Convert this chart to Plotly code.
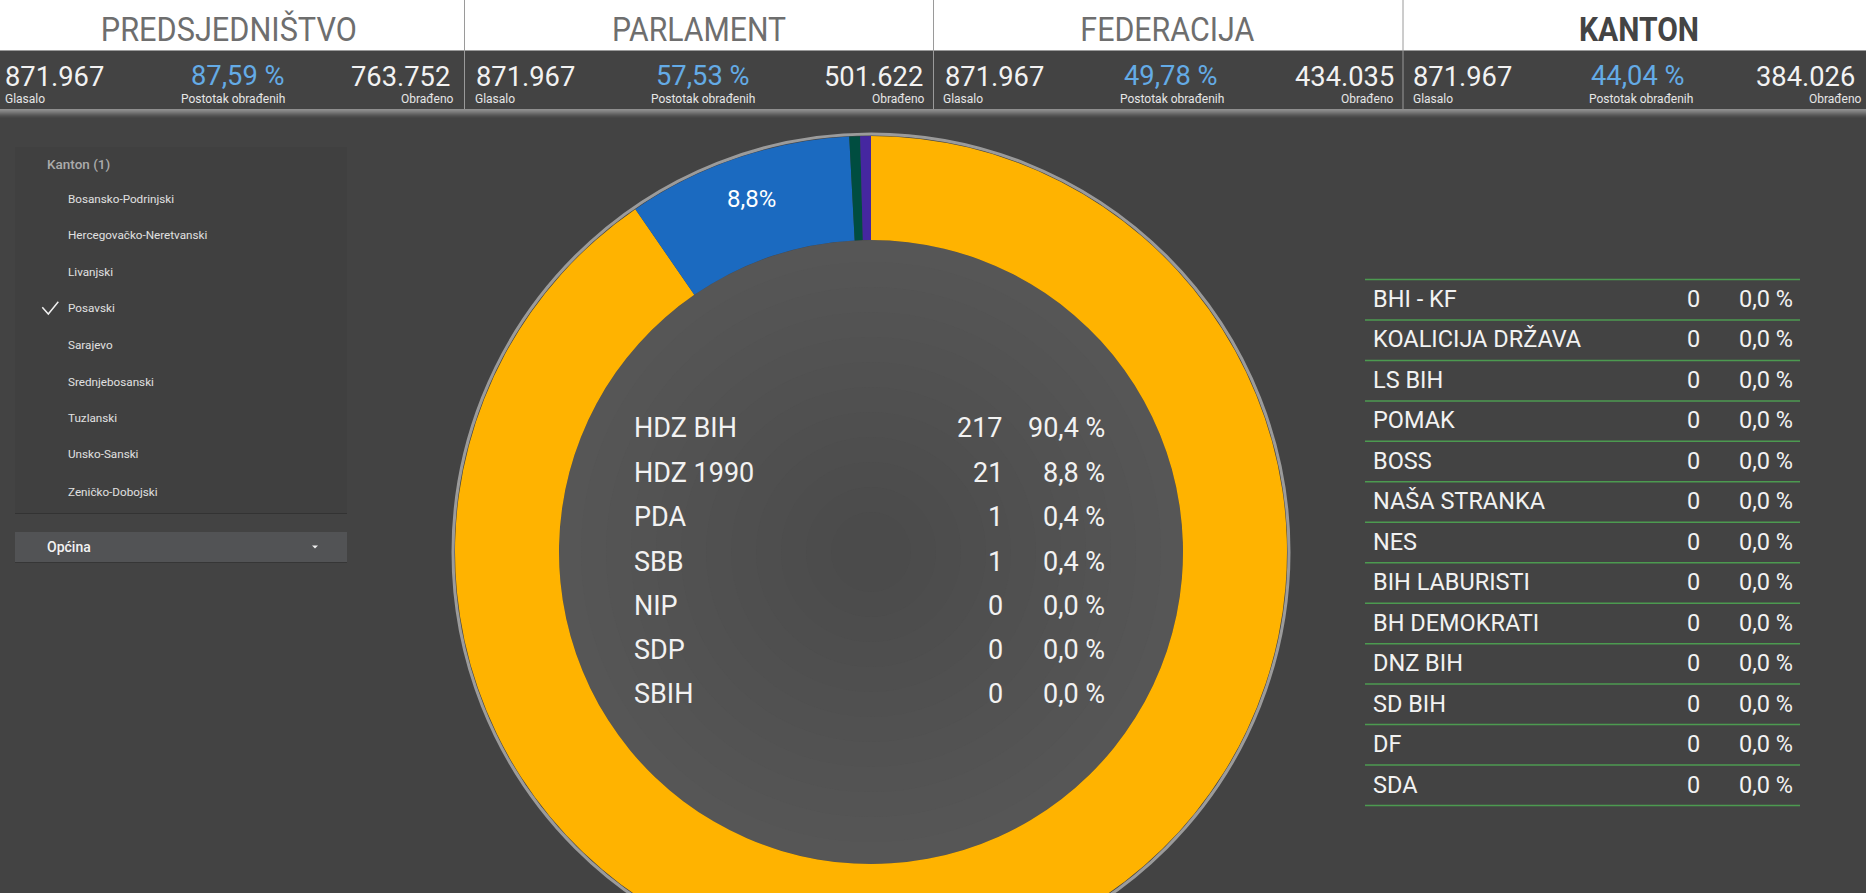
import json
import math
import plotly.graph_objects as go

W, H = 1866, 1000

# ---------- data ----------
party_names = ["HDZ BIH", "HDZ 1990", "PDA", "SBB", "NIP", "SDP", "SBIH"]
party_votes = [217, 21, 1, 1, 0, 0, 0]
party_pct = ["90,4 %", "8,8 %", "0,4 %", "0,4 %", "0,0 %", "0,0 %", "0,0 %"]
slice_colors = ["#ffb300", "#1b6ac0", "#004d40", "#4527a0", "#888888", "#888888", "#888888"]

other_names = ["BHI - KF", "KOALICIJA DRŽAVA", "LS BIH", "POMAK", "BOSS", "NAŠA STRANKA", "NES",
               "BIH LABURISTI", "BH DEMOKRATI", "DNZ BIH", "SD BIH", "DF", "SDA"]
other_votes = [0] * 13
other_pct = ["0,0 %"] * 13

header_titles = ["PREDSJEDNIŠTVO", "PARLAMENT", "FEDERACIJA", "KANTON"]
stat_voted = ["871.967", "871.967", "871.967", "871.967"]
stat_pct = ["87,59 %", "57,53 %", "49,78 %", "44,04 %"]
stat_done = ["763.752", "501.622", "434.035", "384.026"]

cantons = ["Bosansko-Podrinjski", "Hercegovačko-Neretvanski", "Livanjski", "Posavski", "Sarajevo",
           "Srednjebosanski", "Tuzlanski", "Unsko-Sanski", "Zeničko-Dobojski"]

# ---------- layout constants ----------
BG = "#434343"
FONT = "Roboto"
CX, CY, R = 871, 552, 416


def px(x):
    return x / W


def py(y):
    return 1 - y / H


annotations = []
shapes = []


def text(x, y, s, size, color="#f2f2f2", anchor="left", weight=400):
    annotations.append(dict(x=px(x), y=py(y), xref="paper", yref="paper", text=s, showarrow=False,
                            xanchor=anchor, yanchor="middle", borderpad=0,
                            font=dict(family=FONT, size=size, color=color, weight=weight)))


def rect(x0, y0, x1, y1, color):
    shapes.append(dict(type="rect", xref="paper", yref="paper", x0=px(x0), x1=px(x1), y0=py(y0), y1=py(y1),
                       fillcolor=color, line=dict(width=0), layer="below"))


def hline(x0, x1, y, color, width=1):
    shapes.append(dict(type="line", xref="paper", yref="paper", x0=px(x0), x1=px(x1), y0=py(y), y1=py(y),
                       line=dict(color=color, width=width), layer="below"))


def vline(x, y0, y1, color, width=1):
    shapes.append(dict(type="line", xref="paper", yref="paper", x0=px(x), x1=px(x), y0=py(y0), y1=py(y1),
                       line=dict(color=color, width=width), layer="below"))


def circle(r, fill, line_color=None, line_width=0):
    shapes.append(dict(type="circle", xref="paper", yref="paper", x0=px(CX - r), x1=px(CX + r),
                       y0=py(CY + r), y1=py(CY - r), fillcolor=fill,
                       line=dict(color=line_color or fill, width=line_width), layer="below"))


# ---------- header ----------
rect(0, 0, W, 50, "#ffffff")
hline(0, W, 50.5, "#9a9a9a", 1)
band = ["#8e8e8e", "#888888", "#7f7f7f", "#757575", "#6a6a6a", "#5f5f5f", "#555555", "#4d4d4d", "#474747"]
for i, shade in enumerate(band):
    rect(0, 109 + i, W, 110 + i, shade)
for x in (464.5, 933.5, 1403):
    vline(x, 0, 109, "#9a9a9a", 1)

title_cx = [229, 699, 1167.5, 1639]
title_w = [256, 174, 174, 120]
for i, t in enumerate(header_titles):
    if i == 3:
        text(title_cx[i], 29, t, 34, "#444444", "center", 700)
    else:
        text(title_cx[i], 29, t, 34, "#6e6e6e", "center", 400)

voted_x = [4, 475, 944, 1412]
voted_lab_x = [3.5, 473.5, 942.5, 1411.5]
pct_x = [238, 703, 1171, 1638]
pct_lab_x = [233, 703, 1172, 1641]
done_x = [451, 923.5, 1395, 1856]
done_lab_x = [455, 926, 1395, 1862.5]
for i in range(4):
    text(voted_x[i], 76.5, stat_voted[i], 27.3)
    text(pct_x[i], 75.5, stat_pct[i], 27.3, "#64abe6", "center")
    text(done_x[i], 76.5, stat_done[i], 27.3, "#f2f2f2", "right")
    text(voted_lab_x[i], 99, "Glasalo", 12, "#e6e6e6")
    text(pct_lab_x[i], 99, "Postotak obrađenih", 12, "#e6e6e6", "center")
    text(done_lab_x[i], 99, "Obrađeno", 12, "#e6e6e6", "right")

# ---------- left filter panel ----------
rect(15, 147, 347, 513, "#404040")
hline(15, 347, 513.5, "#333333", 1)
text(45.5, 164, "Kanton (1)", 13.5, "#ababab", weight=500)
canton_y = [198.7, 235.3, 271.7, 308.3, 344.7, 381.7, 417.7, 454.3, 491.7]
for name, y in zip(cantons, canton_y):
    text(67, y, name, 11.7, "#e0e0e0")
shapes.append(dict(type="path", xref="paper", yref="paper", layer="below",
                   path="M %f %f L %f %f L %f %f" % (px(42.3), py(307.3), px(48.3), py(314), px(58.3), py(301.7)),
                   line=dict(color="#f0f0f0", width=1.5)))
rect(15, 532, 347, 562, "#525355")
hline(15, 347, 562.5, "#363636", 1)
text(45.5, 547, "Općina", 14, "#f2f2f2", weight=500)
shapes.append(dict(type="path", xref="paper", yref="paper", layer="below",
                   path="M %f %f L %f %f L %f %f Z" % (px(312), py(545.5), px(318), py(545.5), px(315), py(548.5)),
                   fillcolor="#f0f0f0", line=dict(width=0)))

# ---------- donut surroundings ----------
circle(418, BG, "#9b9b9b", 3)
ring_r = [312, 290, 265, 240, 215, 190, 165, 140, 115, 90, 65, 40]
ring_c = ["#565656", "#555555", "#545454", "#535353", "#525252", "#515151", "#505050",
          "#4f4f4f", "#4e4e4e", "#4d4d4d", "#4c4c4c", "#4b4b4b"]
for r, c in zip(ring_r, ring_c):
    circle(r, c)

# slice label, placed from the slice's own share of the total
total = sum(party_votes)
mid_share = (party_votes[0] + party_votes[1] / 2) / total
angle = 2 * math.pi * mid_share
label_r = 372
text(CX + label_r * math.sin(angle), CY - label_r * math.cos(angle) - 1,
     ("%.1f%%" % (100 * party_votes[1] / total)).replace(".", ","), 24, "#ffffff", "center")

# ---------- centre table ----------
centre_y = [427.8, 472.8, 517.2, 561.8, 606.2, 650.2, 694.2]
for n, v, p, y in zip(party_names, party_votes, party_pct, centre_y):
    text(633, y, n, 27)
    text(1004, y, str(v), 27, "#f2f2f2", "right")
    text(1106, y, p, 27, "#f2f2f2", "right")

# ---------- right table ----------
row0, step = 279.5, 40.46
for i in range(14):
    hline(1365, 1800, row0 + i * step, "#4c9a50", 1.5)
for i, (n, v, p) in enumerate(zip(other_names, other_votes, other_pct)):
    y = row0 + (i + 0.5) * step - 0.7
    text(1372, y, n, 23.5)
    text(1701, y, str(v), 23.5, "#f2f2f2", "right")
    text(1794, y, p, 23.5, "#f2f2f2", "right")

# ---------- figure ----------
fig = go.Figure(go.Pie(
    labels=party_names,
    values=party_votes,
    hole=0.75,
    sort=False,
    direction="clockwise",
    rotation=0,
    marker=dict(colors=slice_colors, line=dict(width=0)),
    textinfo="none",
    showlegend=False,
    domain=dict(x=[px(CX - R), px(CX + R)], y=[py(CY + R), py(CY - R)]),
))
fig.update_layout(
    width=W, height=H, autosize=False,
    margin=dict(l=0, r=0, t=0, b=0, pad=0),
    paper_bgcolor=BG, plot_bgcolor=BG,
    font=dict(family=FONT),
    annotations=annotations, shapes=shapes,
)

# Roboto Condensed is not installed: narrow the header titles to the reference widths, still as real text.
widths = json.dumps(dict(zip(header_titles, title_w)), ensure_ascii=False)
post = """
document.body.style.margin='0';document.body.style.overflow='hidden';
document.documentElement.style.overflow='hidden';
var w=%s;
document.querySelectorAll('.annotation-text').forEach(function(t){
  var k=t.textContent;
  if(w[k]){t.setAttribute('textLength',w[k]);t.setAttribute('lengthAdjust','spacingAndGlyphs');}
});
""" % widths
fig.write_html("out.html", config=dict(displayModeBar=False), post_script=post)
